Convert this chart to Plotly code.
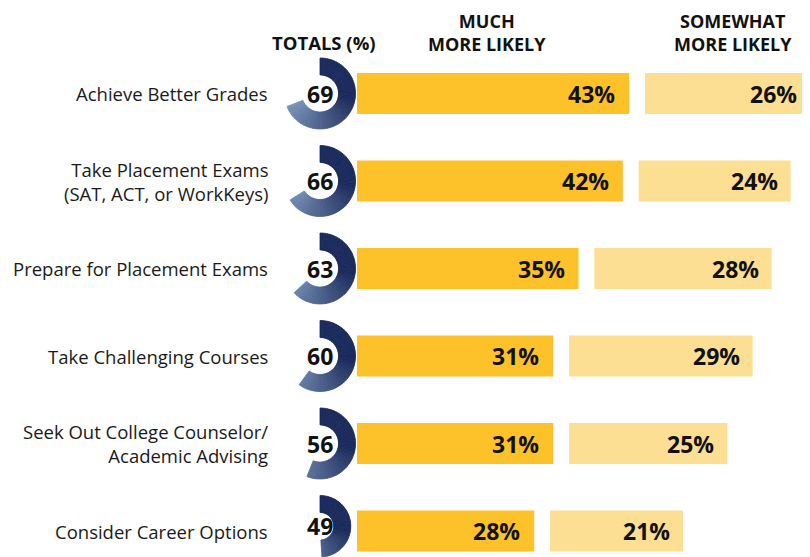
import plotly.graph_objects as go

# ---------------- data ----------------
categories = [
    "Achieve Better Grades",
    "Take Placement Exams<br>(SAT, ACT, or WorkKeys)",
    "Prepare for Placement Exams",
    "Take Challenging Courses",
    "Seek Out College Counselor/<br>Academic Advising",
    "Consider Career Options",
]
totals = [69, 66, 63, 60, 56, 49]
much_more = [43, 42, 35, 31, 31, 28]
somewhat_more = [26, 24, 28, 29, 25, 21]
header_totals = "TOTALS (%)"
header_much = ["MUCH", "MORE LIKELY"]
header_somewhat = ["SOMEWHAT", "MORE LIKELY"]

# ---------------- layout constants ----------------
OFF = 8                      # page body margin offset
W, H = 810 - OFF, 557 - OFF
X0 = 357 - OFF               # pixel where bars start
PXU = 6.33                   # pixels per percentage point
ROW0 = 93.5 - OFF            # pixel centre of first row
PITCH = 87.5                 # row pitch in pixels
GAP = 2.5                    # gap between the two bars (in % units)
BARW = 0.47
GOLD = "#FDC12A"
LIGHT = "#FCDF92"
DARK = (27, 42, 92)
PALE = (120, 146, 182)
FONT = "Open Sans"
DONUT_CX = 320 - OFF
DONUT_R = 35.5
RING = 17


def px_x(px):
    return px / W


def px_y(py):
    return 1 - py / H


def lerp_color(t):
    t = max(0.0, min(1.0, t))
    c = [round(DARK[k] + (PALE[k] - DARK[k]) * t) for k in range(3)]
    return "rgb(%d,%d,%d)" % tuple(c)


fig = go.Figure()

fig.add_trace(go.Bar(
    y=categories, x=much_more, orientation="h", width=BARW,
    marker=dict(color=GOLD, line=dict(width=0)), hoverinfo="skip", showlegend=False,
))
fig.add_trace(go.Bar(
    y=categories, x=somewhat_more, base=[m + GAP for m in much_more],
    orientation="h", width=BARW,
    marker=dict(color=LIGHT, line=dict(width=0)), hoverinfo="skip", showlegend=False,
))

annotations = []

# donuts with gradient arcs
for i, t in enumerate(totals):
    cy = ROW0 + i * PITCH
    top = max(cy - DONUT_R, 0)
    bot = min(cy + DONUT_R, H)
    r_eff = min(DONUT_R, (bot - top) / 2)
    deg = t * 3.6
    n = max(1, int(round(deg / 3)))
    vals = [t / n] * n + [100 - t]
    cols = []
    for k in range(n):
        theta = (k + 0.5) * deg / n
        cols.append(lerp_color((theta - 100) / 150))
    cols.append("rgba(0,0,0,0)")
    fig.add_trace(go.Pie(
        values=vals, sort=False, direction="clockwise", rotation=0,
        hole=(r_eff - RING) / r_eff, textinfo="none", hoverinfo="skip", showlegend=False,
        marker=dict(colors=cols, line=dict(color=cols[:-1] + ["rgba(0,0,0,0)"], width=0.8)),
        domain=dict(
            x=[px_x(DONUT_CX - DONUT_R), px_x(DONUT_CX + DONUT_R)],
            y=[px_y(bot), px_y(top)],
        ),
    ))
    annotations.append(dict(
        xref="paper", yref="paper", x=px_x(DONUT_CX), y=px_y((top + bot) / 2),
        text="<b>%d</b>" % t, showarrow=False, xanchor="center", yanchor="middle",
        font=dict(family=FONT, size=23, color="#111111"),
    ))

# category labels
for c in categories:
    annotations.append(dict(
        xref="paper", yref="y", x=px_x(270 - OFF), y=c, text=c, showarrow=False,
        xanchor="right", yanchor="middle", align="right",
        font=dict(family=FONT, size=18.5, color="#1a1a1a"),
    ))

# bar value labels
for c, m, s in zip(categories, much_more, somewhat_more):
    annotations.append(dict(
        xref="x", yref="y", x=m, y=c, text="<b>%d%%</b>" % m, showarrow=False,
        xanchor="right", yanchor="middle", xshift=-12,
        font=dict(family=FONT, size=23, color="#111111"),
    ))
    annotations.append(dict(
        xref="x", yref="y", x=m + GAP + s, y=c, text="<b>%d%%</b>" % s, showarrow=False,
        xanchor="right", yanchor="middle", xshift=-11,
        font=dict(family=FONT, size=23, color="#111111"),
    ))

# headers
annotations.append(dict(
    xref="paper", yref="paper", x=px_x(324 - OFF), y=px_y(42.5 - OFF),
    text="<b>%s</b>" % header_totals,
    showarrow=False, xanchor="center", yanchor="middle",
    font=dict(family=FONT, size=18.5, color="#111111"),
))
for cx, lines in ((487, header_much), (732.5, header_somewhat)):
    annotations.append(dict(
        xref="paper", yref="paper", x=px_x(cx - OFF), y=px_y(33 - OFF),
        text="<br>".join("<b>%s</b>" % ln for ln in lines),
        showarrow=False, xanchor="center", yanchor="middle", align="center",
        font=dict(family=FONT, size=18, color="#111111"),
    ))

fig.update_layout(
    width=W, height=H,
    margin=dict(l=0, r=0, t=0, b=0, pad=0),
    paper_bgcolor="white", plot_bgcolor="white",
    barmode="overlay",
    xaxis=dict(range=[-X0 / PXU, (W - X0) / PXU], visible=False, fixedrange=True),
    yaxis=dict(type="category", categoryorder="array", categoryarray=categories,
               range=[(H - ROW0) / PITCH, -ROW0 / PITCH], visible=False, fixedrange=True),
    annotations=annotations,
)

fig.write_html("out.html")
